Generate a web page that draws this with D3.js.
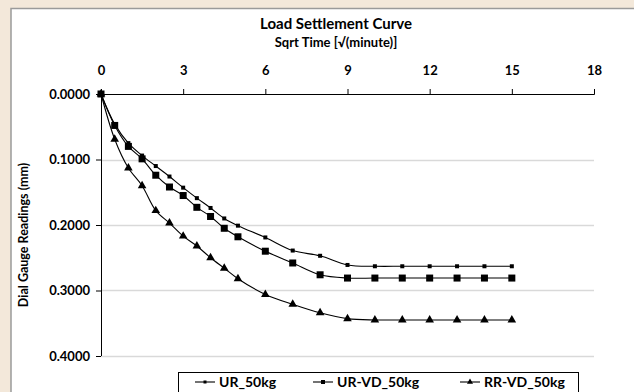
<!DOCTYPE html>
<html>
<head>
<meta charset="utf-8">
<script src="https://cdn.jsdelivr.net/npm/d3@7"></script>
<style>
  html, body { margin: 0; padding: 0; background: #f3e8da; }
  svg { display: block; }
  text { font-family: Lato, "Open Sans", sans-serif; font-weight: bold; fill: #000; }
</style>
</head>
<body>
<svg width="634" height="392"></svg>
<script>
// sqrt time values (x)
const sqrtTime = [0, 0.5, 1, 1.5, 2, 2.5, 3, 3.5, 4, 4.5, 5, 6, 7, 8, 9, 10, 11, 12, 13, 14, 15];

// dial gauge readings (mm)
const urValues   = [0, 0.046, 0.075, 0.094, 0.110, 0.126, 0.143, 0.159, 0.174, 0.190, 0.201, 0.219, 0.239, 0.247, 0.261, 0.263, 0.263, 0.263, 0.263, 0.263, 0.263];
const urvdValues = [0, 0.048, 0.080, 0.099, 0.124, 0.142, 0.155, 0.173, 0.187, 0.205, 0.218, 0.240, 0.258, 0.276, 0.281, 0.281, 0.281, 0.281, 0.281, 0.281, 0.281];
const rrvdValues = [0, 0.069, 0.113, 0.140, 0.178, 0.197, 0.217, 0.232, 0.250, 0.266, 0.282, 0.306, 0.321, 0.334, 0.343, 0.345, 0.345, 0.345, 0.345, 0.345, 0.345];

const seriesNames = ['UR_50kg', 'UR-VD_50kg', 'RR-VD_50kg'];
const xTicks = [0, 3, 6, 9, 12, 15, 18];
const yTicks = [0, 0.1, 0.2, 0.3, 0.4];

const series = [
    { name: seriesNames[0], values: urValues, marker: 'smallSquare' },
    { name: seriesNames[1], values: urvdValues, marker: 'square' },
    { name: seriesNames[2], values: rrvdValues, marker: 'triangle' }
];

const svg = d3.select('svg');

// chart area (white, grey frame)
svg.append('rect')
    .attr('x', 11).attr('y', 8.5)
    .attr('width', 640).attr('height', 400)
    .attr('fill', '#fff')
    .attr('stroke', '#9a9a9a')
    .attr('stroke-width', 1.5);

const plot = { left: 101, right: 594, top: 94, bottom: 356 };

const x = d3.scaleLinear().domain([0, 18]).range([plot.left, plot.right]);
const y = d3.scaleLinear().domain([0, 0.4]).range([plot.top, plot.bottom]);

// gridlines
svg.append('g')
    .selectAll('line')
    .data(yTicks.filter(d => d > 0))
    .enter().append('line')
    .attr('x1', plot.left).attr('x2', plot.right)
    .attr('y1', d => Math.round(y(d)) + 0.5).attr('y2', d => Math.round(y(d)) + 0.5)
    .attr('stroke', '#d9d9d9')
    .attr('stroke-width', 1.5);

// x axis on top
const xAxis = svg.append('g')
    .attr('transform', `translate(0,${plot.top})`)
    .call(d3.axisTop(x).tickValues(xTicks).tickSize(5).tickSizeOuter(5).tickPadding(14));

// y axis on the left
const yAxis = svg.append('g')
    .attr('transform', `translate(${plot.left},0)`)
    .call(d3.axisLeft(y).tickValues(yTicks).tickSize(5).tickSizeOuter(0).tickPadding(6).tickFormat(d3.format('.4f')));

[xAxis, yAxis].forEach(g => {
    g.select('.domain').attr('stroke', '#000');
    g.selectAll('.tick line').attr('stroke', '#000');
    g.selectAll('.tick text').attr('font-size', 13).attr('font-family', 'Lato, sans-serif').attr('font-weight', 'bold');
});
yAxis.select('.domain').attr('d', `M0.5,${plot.top}V${plot.bottom}`);

// titles
svg.append('text')
    .attr('x', 336).attr('y', 29)
    .attr('text-anchor', 'middle')
    .attr('font-size', 15)
    .text('Load Settlement Curve');

svg.append('text')
    .attr('x', 336).attr('y', 47)
    .attr('text-anchor', 'middle')
    .attr('font-size', 13)
    .text('Sqrt Time [\u221A(minute)]');

svg.append('text')
    .attr('transform', 'translate(28,235) rotate(-90)')
    .attr('text-anchor', 'middle')
    .attr('font-size', 12.5)
    .text('Dial Gauge Readings (mm)');

// lines
const line = d3.line()
    .x((d, i) => x(sqrtTime[i]))
    .y(d => y(d))
    .curve(d3.curveCatmullRom.alpha(0.5));

function drawMarker(g, type, cx, cy) {
    if (type === 'smallSquare') {
        g.append('rect').attr('x', cx - 2).attr('y', cy - 2).attr('width', 4).attr('height', 4).attr('fill', '#000');
    } else if (type === 'square') {
        g.append('rect').attr('x', cx - 3.5).attr('y', cy - 3.5).attr('width', 7).attr('height', 7).attr('fill', '#000');
    } else {
        g.append('path')
            .attr('d', d3.symbol().type(d3.symbolTriangle).size(32)())
            .attr('transform', `translate(${cx},${cy})`)
            .attr('fill', '#000');
    }
}

series.forEach(s => {
    svg.append('path')
        .datum(s.values)
        .attr('d', line)
        .attr('fill', 'none')
        .attr('stroke', '#000')
        .attr('stroke-width', 1.1);
    const mg = svg.append('g');
    s.values.forEach((v, i) => drawMarker(mg, s.marker, x(sqrtTime[i]), y(v)));
});

// legend
const legend = svg.append('g');
legend.append('rect')
    .attr('x', 178.5).attr('y', 372.5)
    .attr('width', 400).attr('height', 30)
    .attr('fill', '#fff')
    .attr('stroke', '#000')
    .attr('stroke-width', 1);

const legendX = [195, 313, 460];
series.forEach((s, i) => {
    const lx = legendX[i];
    legend.append('line')
        .attr('x1', lx).attr('x2', lx + 20)
        .attr('y1', 382).attr('y2', 382)
        .attr('stroke', '#000').attr('stroke-width', 1.1);
    if (s.marker === 'triangle') {
        legend.append('path')
            .attr('d', d3.symbol().type(d3.symbolTriangle).size(16)())
            .attr('transform', `translate(${lx + 10},382)`)
            .attr('fill', '#000');
    } else {
        const h = s.marker === 'square' ? 2 : 1.5;
        legend.append('rect').attr('x', lx + 10 - h).attr('y', 382 - h)
            .attr('width', 2 * h).attr('height', 2 * h).attr('fill', '#000');
    }
    legend.append('text')
        .attr('x', lx + 24).attr('y', 387)
        .attr('font-size', 14)
        .text(s.name);
});
</script>
</body>
</html>
